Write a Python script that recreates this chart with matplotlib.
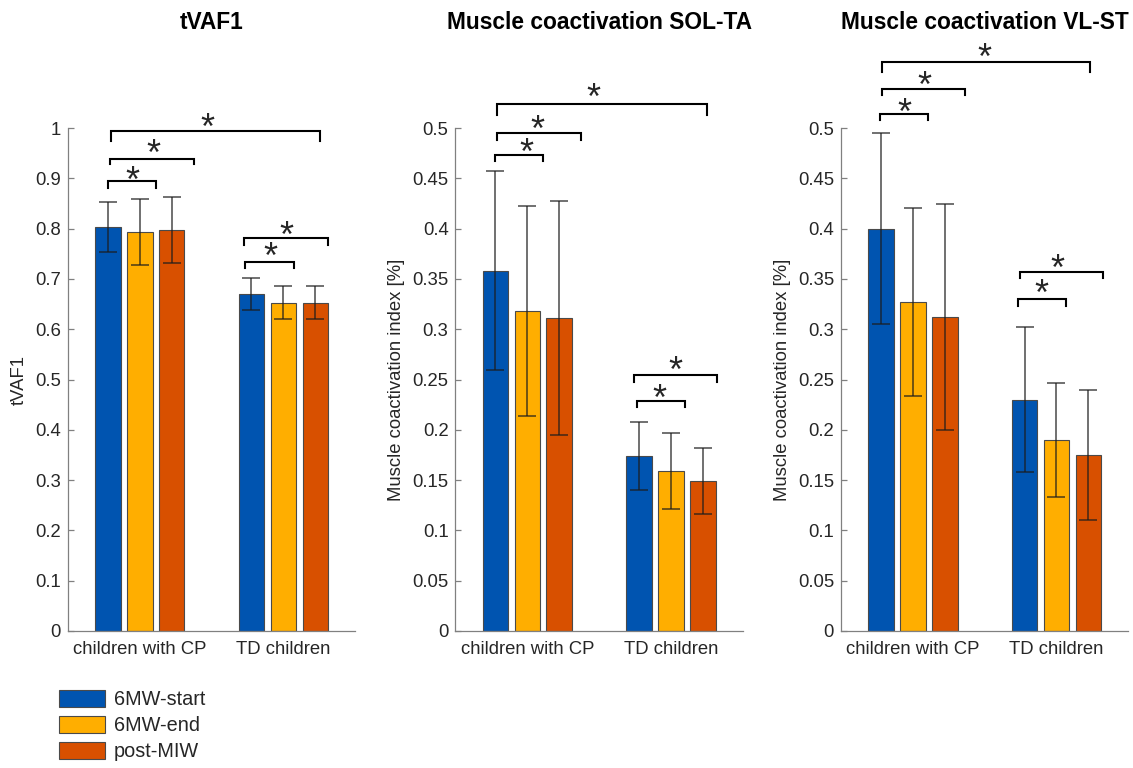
import matplotlib
matplotlib.use("Agg")
import matplotlib.pyplot as plt
import matplotlib.transforms as mtransforms
from matplotlib.patches import Patch
from matplotlib.ticker import FuncFormatter, MultipleLocator

plt.rcParams['font.family'] = ['Liberation Sans', 'DejaVu Sans']

# ---------------- data ----------------
groups = ["children with CP", "TD children"]
conditions = ["6MW-start", "6MW-end", "post-MIW"]
titles = ["tVAF1", "Muscle coactivation SOL-TA", "Muscle coactivation VL-ST"]
ylabels = ["tVAF1", "Muscle coactivation index [%]", "Muscle coactivation index [%]"]

# means [group][condition]
tvaf_mean = [[0.803, 0.793, 0.797], [0.670, 0.653, 0.653]]
tvaf_sd = [[0.050, 0.066, 0.066], [0.031, 0.033, 0.032]]
solta_mean = [[0.358, 0.318, 0.311], [0.174, 0.159, 0.149]]
solta_sd = [[0.099, 0.104, 0.116], [0.034, 0.038, 0.033]]
vlst_mean = [[0.400, 0.327, 0.312], [0.230, 0.190, 0.175]]
vlst_sd = [[0.095, 0.093, 0.112], [0.072, 0.057, 0.065]]

ymax = [1.0, 0.5, 0.5]
ystep = [0.1, 0.05, 0.05]

# significance brackets: (x1, x2, y_line, y_leg_end, star_x, star_y)
tvaf_sig = [
    (0.780, 1.116, 0.894, 0.881, 0.951, 0.909),
    (0.796, 1.376, 0.939, 0.928, 1.095, 0.963),
    (0.803, 2.258, 0.994, 0.974, 1.469, 1.014),
    (1.736, 2.072, 0.734, 0.722, 1.909, 0.757),
    (1.729, 2.311, 0.781, 0.767, 2.019, 0.800),
]
solta_sig = [
    (0.776, 1.112, 0.473, 0.467, 0.993, 0.482),
    (0.788, 1.373, 0.4947, 0.488, 1.068, 0.505),
    (0.788, 2.250, 0.5236, 0.513, 1.457, 0.537),
    (1.762, 2.100, 0.229, 0.2224, 1.923, 0.238),
    (1.741, 2.324, 0.2548, 0.248, 2.033, 0.266),
]
vlst_sig = [
    (0.771, 1.104, 0.5139, 0.508, 0.943, 0.522),
    (0.785, 1.366, 0.5388, 0.533, 1.083, 0.549),
    (0.785, 2.234, 0.566, 0.556, 1.500, 0.577),
    (1.731, 2.065, 0.330, 0.3234, 1.892, 0.342),
    (1.743, 2.324, 0.357, 0.3506, 2.007, 0.367),
]

means = [tvaf_mean, solta_mean, vlst_mean]
sds = [tvaf_sd, solta_sd, vlst_sd]
sigs = [tvaf_sig, solta_sig, vlst_sig]

# ---------------- style ----------------
colors = ["#0054B0", "#FFAE00", "#D85000"]
edge = "#4a4a4a"
axis_gray = "#808080"
text_col = "#262626"
tick_fs = 13.3
legend_fs = 14.3
title_fs = 16.4
star_fs = 26

fig = plt.figure(figsize=(11.33, 7.68), dpi=100)
lefts = [0.0600, 0.4020, 0.7423]
bottom, width, height = 0.1784, 0.2535, 0.6549

bar_off = 0.2222
bar_w = 0.1778

for p in range(3):
    ax = fig.add_axes([lefts[p], bottom, width, height])
    for g in range(2):
        for c in range(3):
            x = (g + 1) + (c - 1) * bar_off
            ax.bar(x, means[p][g][c], width=bar_w, color=colors[c],
                   edgecolor=edge, linewidth=0.8, zorder=2)
            ax.errorbar(x, means[p][g][c], yerr=sds[p][g][c], fmt='none',
                        ecolor='#1c1c1c', elinewidth=1.1, capsize=6.5,
                        capthick=1.1, alpha=0.8, zorder=3)
    ax.set_xlim(0.5, 2.5)
    ax.set_ylim(0, ymax[p])
    ax.yaxis.set_major_locator(MultipleLocator(ystep[p]))
    ax.yaxis.set_major_formatter(FuncFormatter(lambda v, pos: "%g" % round(v, 4)))
    ax.set_xticks([1, 2])
    ax.set_xticklabels(groups)
    for s in ['top', 'right']:
        ax.spines[s].set_visible(False)
    for s in ['left', 'bottom']:
        ax.spines[s].set_color(axis_gray)
        ax.spines[s].set_linewidth(0.9)
    ax.tick_params(direction='in', length=4, width=0.9, color=axis_gray,
                   labelcolor=text_col, labelsize=tick_fs, pad=5)
    ax.tick_params(axis='x', pad=7)
    ax.set_ylabel(ylabels[p], fontsize=tick_fs, color=text_col, labelpad=5)
    ax.text(0.5, 1 + (128 - 29) / 503.0, titles[p], transform=ax.transAxes,
            ha='center', va='baseline', fontsize=title_fs, fontweight='bold',
            color='black')

    # significance brackets
    star_tr = mtransforms.offset_copy(ax.transData, fig=fig, x=0,
                                      y=-0.5 * star_fs, units='points')
    for (x1, x2, yl, ye, sx, sy) in sigs[p]:
        ax.plot([x1, x1, x2, x2], [ye, yl, yl, ye], color='black', lw=1.5,
                clip_on=False, solid_joinstyle='miter', zorder=4)
        ax.text(sx, sy, "*", transform=star_tr, ha='center', va='baseline',
                fontsize=star_fs, color=text_col, clip_on=False)

handles = [Patch(facecolor=colors[i], edgecolor=edge, linewidth=0.8,
                 label=conditions[i]) for i in range(3)]
fig.legend(handles=handles, loc='upper left', bbox_to_anchor=(0.052, 0.1016),
           frameon=False, fontsize=legend_fs, handlelength=2.31, handleheight=0.95,
           labelspacing=0.33, handletextpad=0.45, borderpad=0, borderaxespad=0,
           labelcolor=text_col)

fig.savefig("out.png", dpi=100)
